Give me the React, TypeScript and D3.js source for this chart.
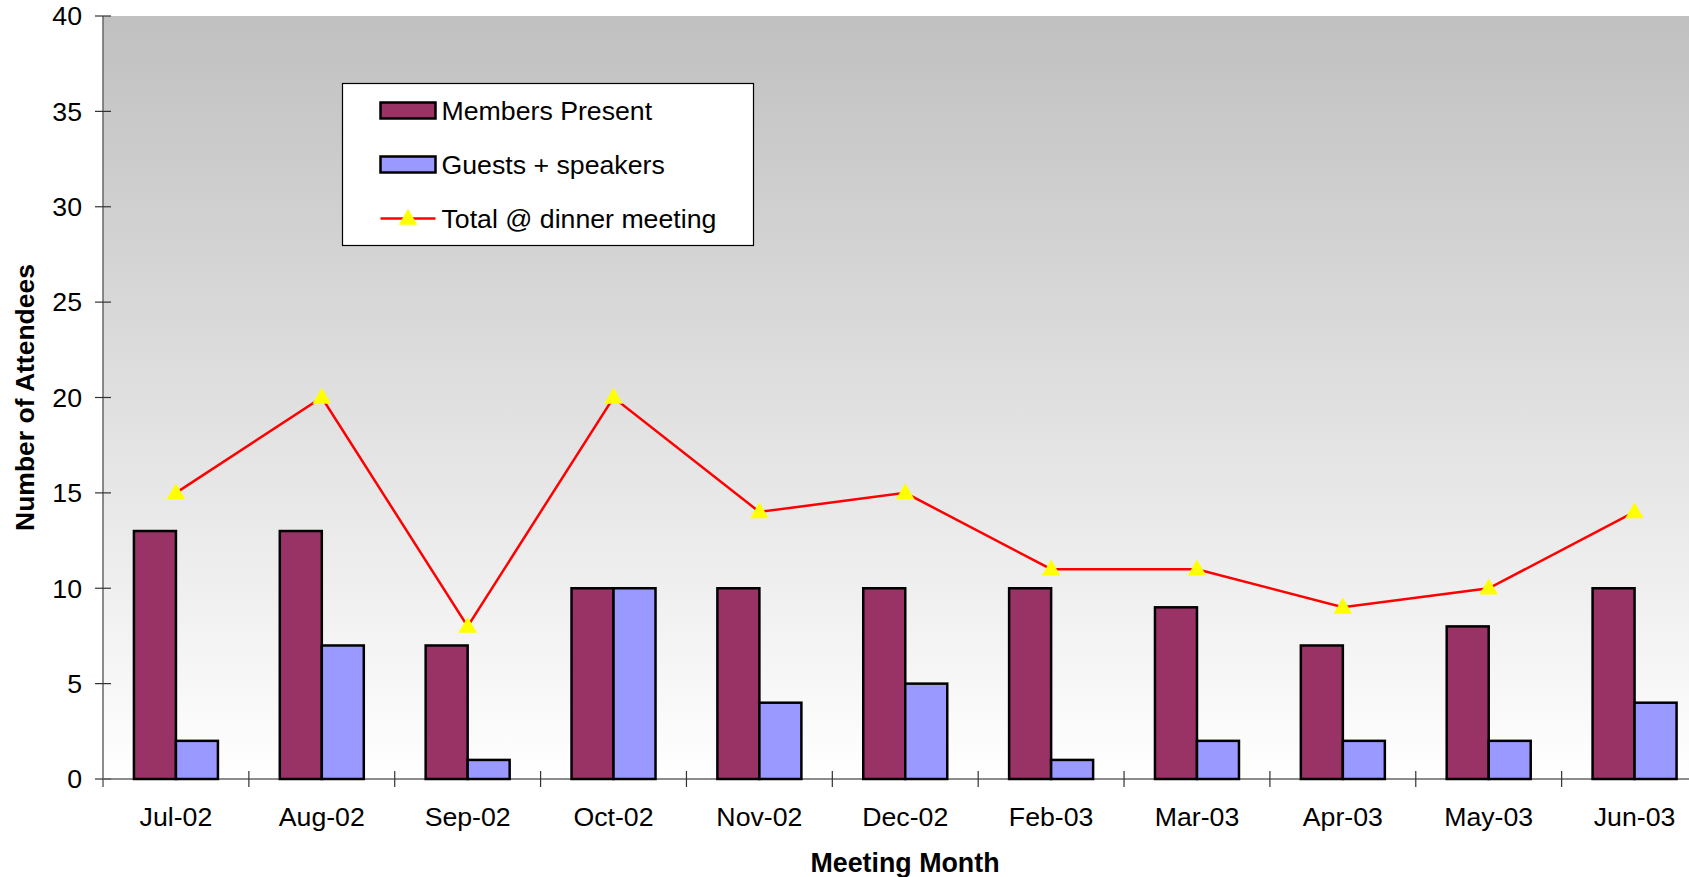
import { useMemo } from "react";
import * as d3 from "d3";

const months = ["Jul-02", "Aug-02", "Sep-02", "Oct-02", "Nov-02", "Dec-02", "Feb-03", "Mar-03", "Apr-03", "May-03", "Jun-03"];
const members = [13, 13, 7, 10, 10, 10, 10, 9, 7, 8, 10];
const guests = [2, 7, 1, 10, 4, 5, 1, 2, 2, 2, 4];
const totals = [15, 20, 8, 20, 14, 15, 11, 11, 9, 10, 14];
const yTicks = [0, 5, 10, 15, 20, 25, 30, 35, 40];

const legendItems = ["Members Present", "Guests + speakers", "Total @ dinner meeting"];

const W = 1689;
const H = 877;
const FONT = "'Liberation Sans', Arial, sans-serif";

export default function App() {
  const margin = { top: 16, left: 103, bottom: 98 };
  const plotRight = 1707.5;
  const innerW = plotRight - margin.left;
  const innerH = H - margin.bottom - margin.top;

  const { x, y, line } = useMemo(() => {
    const x = d3.scaleBand<string>().domain(months).range([0, innerW]);
    const y = d3.scaleLinear().domain([0, 40]).range([innerH, 0]);
    const line = d3
      .line<number>()
      .x((_, i) => x(months[i])! + x.bandwidth() / 2)
      .y(d => y(d));
    return { x, y, line };
  }, [innerW, innerH]);

  const barW = 42;
  const tri = d3.symbol().type(d3.symbolTriangle).size(150)();

  return (
    <svg width={W} height={H} style={{ display: "block", position: "absolute", left: 0, top: 0 }} fontFamily={FONT}>
      <defs>
        <linearGradient id="bg" x1="0" y1="0" x2="0" y2="1">
          <stop offset="0" stopColor="#c0c0c0" />
          <stop offset="1" stopColor="#ffffff" />
        </linearGradient>
      </defs>
      <rect width={W} height={H} fill="#fff" />
      <g transform={`translate(${margin.left},${margin.top})`}>
        <rect width={innerW} height={innerH} fill="url(#bg)" />

        {/* y axis */}
        <line x1={0} x2={0} y1={0} y2={innerH + 8} stroke="#666" strokeWidth={1.5} />
        {yTicks.map(t => (
          <g key={t} transform={`translate(0,${y(t)})`}>
            <line x1={-8} x2={8} stroke="#333" strokeWidth={1.2} />
            <text x={-21} dy="0.35em" textAnchor="end" fontSize={26.7} fill="#000">
              {t}
            </text>
          </g>
        ))}

        {/* x axis */}
        <line x1={0} x2={innerW} y1={innerH} y2={innerH} stroke="#666" strokeWidth={1.5} />
        {months.map((m, i) => (
          <g key={m}>
            {i > 0 && (
              <line x1={x(m)!} x2={x(m)!} y1={innerH - 8} y2={innerH + 8} stroke="#333" strokeWidth={1.2} />
            )}
            <text x={x(m)! + x.bandwidth() / 2} y={innerH + 47} textAnchor="middle" fontSize={26.7} fill="#000">
              {m}
            </text>
          </g>
        ))}

        {/* bars */}
        {months.map((m, i) => {
          const cx = x(m)! + x.bandwidth() / 2;
          return (
            <g key={m} stroke="#000" strokeWidth={2.5}>
              <rect x={cx - barW} y={y(members[i])} width={barW} height={innerH - y(members[i])} fill="#993366" />
              <rect x={cx} y={y(guests[i])} width={barW} height={innerH - y(guests[i])} fill="#9999ff" />
            </g>
          );
        })}

        {/* total line */}
        <path d={line(totals) ?? ""} fill="none" stroke="#ff0000" strokeWidth={2.5} />
        {totals.map((v, i) => (
          <path
            key={i}
            d={tri ?? ""}
            transform={`translate(${x(months[i])! + x.bandwidth() / 2},${y(v) + 1})`}
            fill="#ffff00"
          />
        ))}
      </g>

      {/* legend */}
      <g transform="translate(342.5,83.5)">
        <rect width={411} height={162} fill="#fff" stroke="#000" strokeWidth={1.2} />
        {legendItems.map((label, i) => {
          const cy = 27 + i * 54;
          return (
            <g key={label} transform={`translate(0,${cy})`}>
              {i < 2 ? (
                <rect x={38} y={-8} width={55} height={16} fill={i === 0 ? "#993366" : "#9999ff"} stroke="#000" strokeWidth={2.5} />
              ) : (
                <>
                  <line x1={38} x2={93} stroke="#ff0000" strokeWidth={2.5} />
                  <path d={tri ?? ""} transform="translate(65.5,1)" fill="#ffff00" />
                </>
              )}
              <text x={99} dy="0.36em" fontSize={26.7} fill="#000">
                {label}
              </text>
            </g>
          );
        })}
      </g>

      {/* axis titles */}
      <text
        transform="translate(34,397.5) rotate(-90)"
        textAnchor="middle"
        fontSize={26.5}
        fontWeight="bold"
        fill="#000"
      >
        Number of Attendees
      </text>
      <text x={905} y={872} textAnchor="middle" fontSize={26.8} fontWeight="bold" fill="#000">
        Meeting Month
      </text>
    </svg>
  );
}
